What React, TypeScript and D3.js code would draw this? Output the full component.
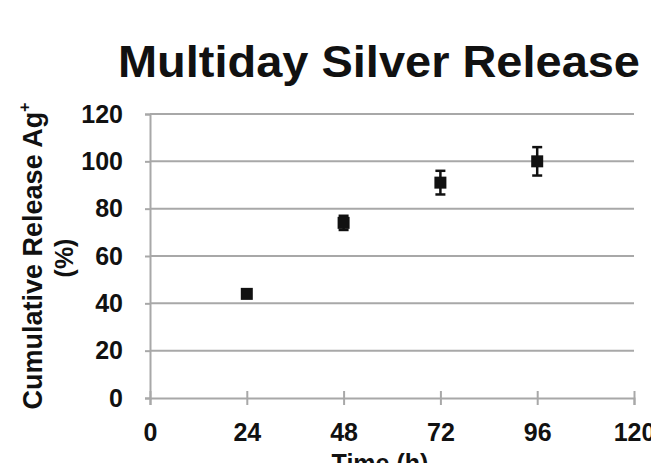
import { useRef, useEffect } from 'react';
import * as d3 from 'd3';

const times = [24, 48, 72, 96];
const release = [44, 74, 91, 100];
const errors = [1.5, 3, 5, 6];
const xTicks = [0, 24, 48, 72, 96, 120];
const yTicks = [0, 20, 40, 60, 80, 100, 120];

const W = 651;
const H = 463;
const font = '"Liberation Sans", Arial, sans-serif';
const gridColor = '#a8a8a8';

function App() {
    const ref = useRef<SVGSVGElement>(null);

    useEffect(() => {
        const svg = d3.select(ref.current);
        svg.selectAll('*').remove();

        const x = d3.scaleLinear().domain([0, 120]).range([150, 634]);
        const y = d3.scaleLinear().domain([0, 120]).range([398, 114]);

        svg.append('rect').attr('width', W).attr('height', H).attr('fill', '#fff');

        // title
        svg.append('text')
            .attr('x', 118).attr('y', 77)
            .attr('font-family', font).attr('font-weight', 'bold')
            .attr('font-size', 44).attr('fill', '#111')
            .attr('textLength', 522).attr('lengthAdjust', 'spacingAndGlyphs')
            .text('Multiday Silver Release');

        // horizontal gridlines
        svg.append('g').selectAll('line')
            .data(yTicks.filter(d => d > 0))
            .enter().append('line')
            .attr('x1', x(0)).attr('x2', x(120))
            .attr('y1', d => y(d)).attr('y2', d => y(d))
            .attr('stroke', gridColor).attr('stroke-width', 2);

        // y axis
        const gy = svg.append('g')
            .attr('transform', `translate(${x(0)},0)`)
            .call(d3.axisLeft(y).tickValues(yTicks).tickSize(5).tickPadding(22).tickFormat(d3.format('d')));
        gy.select('.domain').attr('stroke', gridColor).attr('stroke-width', 2);
        gy.selectAll('.tick line').attr('stroke', gridColor).attr('stroke-width', 2);
        gy.selectAll('.tick text')
            .attr('font-family', font).attr('font-weight', 'bold')
            .attr('font-size', 25).attr('fill', '#111');

        // x axis
        const gx = svg.append('g')
            .attr('transform', `translate(0,${y(0)})`)
            .call(d3.axisBottom(x).tickValues(xTicks).tickSize(7).tickPadding(18).tickFormat(d3.format('d')));
        gx.select('.domain').attr('stroke', gridColor).attr('stroke-width', 2);
        gx.selectAll('.tick line').attr('y1', -7).attr('stroke', gridColor).attr('stroke-width', 2);
        gx.selectAll('.tick text')
            .attr('font-family', font).attr('font-weight', 'bold')
            .attr('font-size', 25).attr('fill', '#111');

        // axis titles
        svg.append('text')
            .attr('x', 380).attr('y', 472)
            .attr('text-anchor', 'middle')
            .attr('font-family', font).attr('font-weight', 'bold')
            .attr('font-size', 25).attr('fill', '#111')
            .text('Time (h)');

        const yt = svg.append('text')
            .attr('transform', 'translate(42,256) rotate(-90)')
            .attr('text-anchor', 'middle')
            .attr('font-family', font).attr('font-weight', 'bold')
            .attr('font-size', 27).attr('fill', '#111');
        yt.append('tspan').text('Cumulative Release Ag');
        yt.append('tspan').attr('font-size', 16).attr('dy', -12).text('+');
        svg.append('text')
            .attr('transform', 'translate(73,258) rotate(-90)')
            .attr('text-anchor', 'middle')
            .attr('font-family', font).attr('font-weight', 'bold')
            .attr('font-size', 25).attr('fill', '#111')
            .text('(%)');

        const pts = times.map((t, i) => ({ t, v: release[i], e: errors[i] }));

        // error bars
        const eb = svg.append('g').attr('stroke', '#111').attr('stroke-width', 2.5);
        pts.forEach(p => {
            eb.append('line').attr('x1', x(p.t)).attr('x2', x(p.t)).attr('y1', y(p.v - p.e)).attr('y2', y(p.v + p.e));
            [p.v - p.e, p.v + p.e].forEach(v => {
                eb.append('line').attr('x1', x(p.t) - 5).attr('x2', x(p.t) + 5).attr('y1', y(v)).attr('y2', y(v));
            });
        });

        // markers
        svg.append('g').selectAll('rect')
            .data(pts)
            .enter().append('rect')
            .attr('x', d => x(d.t) - 6).attr('y', d => y(d.v) - 6)
            .attr('width', 12).attr('height', 12)
            .attr('fill', '#111');
    }, []);

    return <svg ref={ref} width={W} height={H} style={{ position: 'absolute', left: 0, top: 0 }} />;
}

export default App;
